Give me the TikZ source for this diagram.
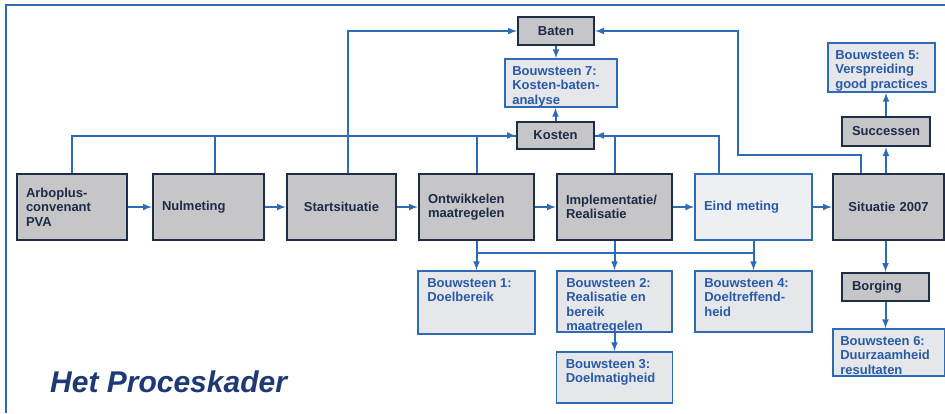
\documentclass[tikz,border=0pt]{standalone}
\usepackage{fontspec}
\setmainfont{Liberation Sans}
\usepackage{xcolor}
\usepackage{tikz}
\usetikzlibrary{arrows,positioning,calc}

\definecolor{lineblue}{HTML}{2D6BB5}
\definecolor{boxgray}{HTML}{C6C6C8}
\definecolor{boxedge}{HTML}{1E2D48}
\definecolor{boxtext}{HTML}{1E2B48}
\definecolor{boxlight}{HTML}{E5E7EB}
\definecolor{eindfill}{HTML}{EEEFF3}
\definecolor{bsblue}{HTML}{2A5AA6}
\definecolor{titleblue}{HTML}{1E3A75}
\newcommand{\boxfont}{\fontsize{13}{14.5}\selectfont\bfseries}

\begin{document}
\begin{tikzpicture}[
    x=1pt, y=-1pt,
    >=latex,
    mainbox/.style={draw=boxedge, line width=2.4pt, fill=boxgray, text=boxtext, font=\boxfont, minimum height=66pt, inner xsep=9pt, align=left},
    smallbox/.style={draw=boxedge, line width=2.4pt, fill=boxgray, text=boxtext, font=\boxfont, minimum height=28pt},
    lightbox/.style={draw=lineblue, line width=1.8pt, fill=boxlight},
    bstext/.style={anchor=north west, inner sep=0pt, align=left, text=bsblue, font=\boxfont},
    link/.style={draw=lineblue, line width=2pt}
  ]
  \fill[white] (0,0) rectangle (945,413);
  \useasboundingbox (0,0) rectangle (945,413);
  \draw[lineblue, line width=2pt] (6,413) -- (6,5) -- (945,5);

  % hoofdlijn
  \node[mainbox, text width=92pt] (arbo) at (72,207) {Arboplus-\\convenant\\PVA};
  \node[mainbox, text width=93pt] (nul) at (208.5,207) {Nulmeting};
  \node[mainbox, text width=91pt, align=center] (start) at (341.5,207) {Startsituatie};
  \node[mainbox, text width=97pt] (ontw) at (476.5,207) {Ontwikkelen\\maatregelen};
  \node[mainbox, text width=97pt] (impl) at (614.5,207) {Implementatie/\\Realisatie};
  \node[mainbox, text width=99pt, draw=lineblue, line width=1.8pt, fill=eindfill, text=bsblue] (eind) at (753.5,207) {Eind meting};
  \node[mainbox, text width=93pt, align=center] (sit) at (888.5,207) {Situatie 2007};

  % kosten en baten
  \node[smallbox, minimum width=76pt] (baten) at (556,31) {Baten};
  \node[lightbox, minimum width=112pt, minimum height=48pt] (bs7) at (561,83) {};
  \node[bstext] (bs7t) at ([shift={(8,8)}]bs7.north west) {Bouwsteen 7:\\Kosten-baten-\\analyse};
  \node[smallbox, minimum width=77pt, minimum height=27pt] (kosten) at (555.5,135.5) {Kosten};

  % rechts
  \node[lightbox, minimum width=107pt, minimum height=49pt] (bs5) at (881.5,67.5) {};
  \node[bstext] (bs5t) at ([shift={(8,8)}]bs5.north west) {Bouwsteen 5:\\Verspreiding\\good practices};
  \node[smallbox, minimum width=88pt, minimum height=29pt] (succ) at (886,131.5) {Successen};
  \node[smallbox, minimum width=87pt, text width=67pt, inner xsep=10pt, align=left] (borging) at (885.5,287) {Borging};
  \node[lightbox, minimum width=112pt, minimum height=47pt] (bs6) at (889,352.5) {};
  \node[bstext] (bs6t) at ([shift={(8,8)}]bs6.north west) {Bouwsteen 6:\\Duurzaamheid\\resultaten};

  % bouwstenen onder
  \node[lightbox, minimum width=117pt, minimum height=63pt] (bs1) at (476.5,302.5) {};
  \node[bstext] (bs1t) at ([shift={(10,8)}]bs1.north west) {Bouwsteen 1:\\Doelbereik};
  \node[lightbox, minimum width=115pt, minimum height=61pt] (bs2) at (614.5,301.5) {};
  \node[bstext] (bs2t) at ([shift={(10,8)}]bs2.north west) {Bouwsteen 2:\\Realisatie en\\bereik\\maatregelen};
  \node[lightbox, minimum width=117pt, minimum height=61pt] (bs4) at (753.5,301.5) {};
  \node[bstext] (bs4t) at ([shift={(10,8)}]bs4.north west) {Bouwsteen 4:\\Doeltreffend-\\heid};
  \node[lightbox, minimum width=116pt, minimum height=51pt] (bs3) at (614.5,377.5) {};
  \node[bstext] (bs3t) at ([shift={(10,8)}]bs3.north west) {Bouwsteen 3:\\Doelmatigheid};

  \node[anchor=base west, inner sep=0pt, text=titleblue, font=\fontsize{30}{36}\selectfont\bfseries\itshape] (title) at (50,392) {Het Proceskader};

  \draw[link,->] (arbo) -- (nul);
  \draw[link,->] (nul) -- (start);
  \draw[link,->] (start) -- (ontw);
  \draw[link,->] (ontw) -- (impl);
  \draw[link,->] (impl) -- (eind);
  \draw[link,->] (eind) -- (sit);

  \draw[link,->] (arbo.north) |- (kosten.west);
  \draw[link] ([xshift=6pt]nul.north) |- (kosten.west);
  \draw[link] (ontw.north) |- (kosten.west);
  \draw[link,->] ([xshift=6pt]start.north) |- (baten.west);
  \draw[link,->] ([xshift=-35pt]eind.north) |- (kosten.east);
  \draw[link] (impl.north) |- (kosten.east);
  \draw[link,->] (baten.south) -- (baten.south |- bs7.north);
  \draw[link,->] (kosten.north) -- (kosten.north |- bs7.south);

  \coordinate (turn) at (738,155);
  \draw[link,->] ([xshift=-27.5pt]sit.north) |- (turn) |- (baten.east);
  \draw[link,->] (sit.north -| succ.south) -- (succ.south);
  \draw[link,->] (succ.north) -- (succ.north |- bs5.south);

  \coordinate (split) at (0,253);
  \draw[link] (ontw.south |- split) -- (eind.south |- split);
  \draw[link,->] (ontw.south) -- (bs1.north);
  \draw[link,->] (impl.south) -- (bs2.north);
  \draw[link,->] (eind.south) -- (bs4.north);
  \draw[link,->] (bs2.south) -- (bs3.north);
  \draw[link,->] (sit.south -| borging.north) -- (borging.north);
  \draw[link,->] (borging.south) -- (borging.south |- bs6.north);
\end{tikzpicture}
\end{document}
